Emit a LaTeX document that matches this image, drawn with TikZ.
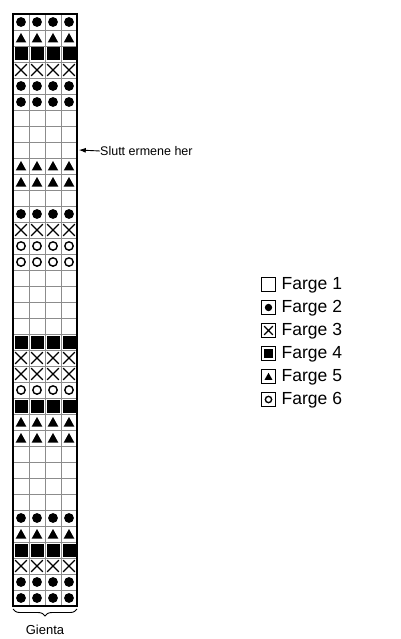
\documentclass[tikz,border=0pt]{standalone}
\usepackage{fontspec}
\setmainfont{Liberation Sans}
\usetikzlibrary{arrows.meta,decorations.pathreplacing}
\tikzset{
  symB/.pic={},
  symD/.pic={\fill (0,0) circle (4.9);},
  symT/.pic={\fill (-5.3,4.5) -- (5.3,4.5) -- (0,-5) -- cycle;},
  symS/.pic={\fill (-6.5,-6.5) rectangle (6.5,6.5);},
  symX/.pic={\draw[line width=1.3] (-5.8,-5.8) -- (5.8,5.8) (-5.8,5.8) -- (5.8,-5.8);},
  symO/.pic={\draw[line width=1.4] (0,0) circle (4.2);},
  gridline/.style={draw=black!45, line width=0.9},
  legbox/.style={draw=black, line width=0.9},
  legtext/.style={anchor=west, font=\fontsize{17.5}{17.5}\selectfont, inner sep=0},
  note/.style={anchor=west, font=\fontsize{12.5}{12.5}\selectfont, inner sep=0},
}
\begin{document}
\begin{tikzpicture}[x=1pt,y=-1pt]
\useasboundingbox (0,0) rectangle (401,639);
% cells
\foreach \s [count=\r] in {D,T,S,X,D,D,B,B,B,T,T,B,D,X,O,O,B,B,B,B,S,X,X,O,S,T,T,B,B,B,B,D,T,S,X,D,D}{
  \foreach \c in {0,...,3}{
    \pic at (21+16*\c, 6+16*\r) {sym\s};
  }
}
% grid lines
\foreach \c in {1,2,3}{ \draw[gridline] (13+16*\c,14) -- (13+16*\c,606); }
\foreach \r in {1,...,36}{ \draw[gridline] (13,14+16*\r) -- (77,14+16*\r); }
\draw[line width=2] (13,14) rectangle (77,606);
\draw[line width=2.8] (13,13) -- (13,607) (77,13) -- (77,607);
% arrow note
\coordinate (armend) at (78.8,150);
\node[note] (slutt) at (100,151) {Slutt ermene her};
\draw[line width=0.9, -{Latex[length=7,width=5]}] (slutt.west) -- (armend);
% brace and label
\coordinate (bl) at (13,609);
\coordinate (br) at (77,609);
\draw[line width=0.9, decorate, decoration={brace, amplitude=7, mirror}] (bl) -- (br);
\node[font=\fontsize{13}{13}\selectfont] (gienta) at (45,630) {Gienta};
% legend
\foreach \s/\t [count=\i from 0] in {B/1,D/2,X/3,S/4,T/5,O/6}{
  \draw[legbox] (261.5,277.5+23*\i) rectangle (275.5,291.5+23*\i);
  \pic[scale=0.75] at (268.5,284.5+23*\i) {sym\s};
  \node[legtext] (leg\i) at (281.5,285+23*\i) {Farge \t};
}
\end{tikzpicture}
\end{document}
